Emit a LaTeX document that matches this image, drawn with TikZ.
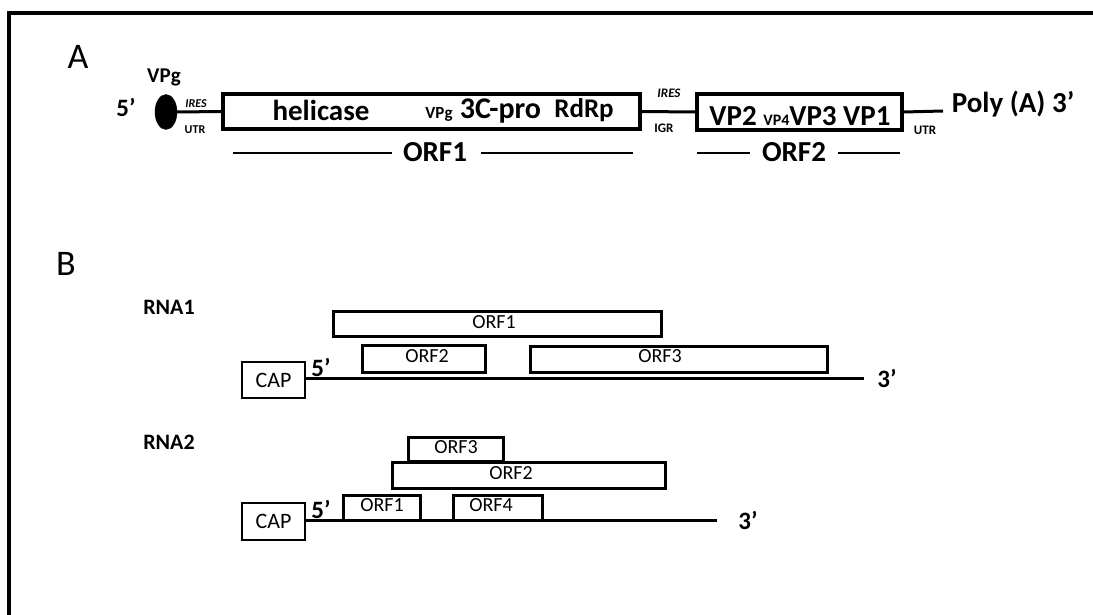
\documentclass[tikz,border=0pt]{standalone}
\usepackage{fontspec}
\setmainfont{Carlito}
\usetikzlibrary{shapes.geometric}
\newcommand{\fsz}[1]{\fontsize{#1}{#1}\selectfont}
\begin{document}
\begin{tikzpicture}[x=1pt,y=-1pt,
  txt/.style={inner sep=0pt, anchor=center},
  gbox/.style={draw, line width=3.2pt, inner sep=0pt},
  orf/.style={draw, line width=3pt, inner sep=0pt},
  capbox/.style={draw, line width=1.4pt, inner sep=0pt},
  rna/.style={line width=3pt},
  thinline/.style={line width=1.5pt},
  orflab/.style={txt, font=\fsz{20}},
  small/.style={txt, font=\bfseries\fsz{12}},
  big/.style={txt, font=\bfseries\fsz{#1}},
]
\useasboundingbox (0,0) rectangle (1093,615);
% frame
\draw[line width=4pt] (9,615) -- (9,13) -- (1093,13);

% ---------- Part A ----------
\node[txt, font=\fsz{36}] (lA) at (78,57) {A};
\node[big=21] (vpg) at (164,77) {VPg};
\node[big=25] (a5) at (126,107) {5’};
\node[draw, fill=black, ellipse, minimum width=22, minimum height=35, inner sep=0pt] (ell) at (166,112) {};
\node[gbox, minimum width=417, minimum height=35] (box1) at (431.5,111.5) {};
\node[gbox, minimum width=205, minimum height=36] (box2) at (799.5,112) {};
\draw[line width=3pt] (ell.east) -- (box1.west);
\draw[line width=3pt] (box1.east) -- (box2.west);
\coordinate (utrend) at (943,111);
\draw[line width=3pt] (box2.east) -- (utrend);
\node[small, font=\bfseries\itshape\fsz{12}] (ires1) at (196,104) {IRES};
\node[small] (utr1) at (195,130) {UTR};
\node[small, font=\bfseries\itshape\fsz{13}] (ires2) at (669,93) {IRES};
\node[small, font=\bfseries\fsz{13}] (igr) at (664,128) {IGR};
\node[small, font=\bfseries\fsz{13}] (utr2) at (925,130) {UTR};
\node[big=29] (hel) at (321,110) {helicase};
\node[big=17] (svpg) at (439,114) {VPg};
\node[big=30] (c3) at (500.5,111) {3C-pro};
\node[big=27] (rdrp) at (584,110) {RdRp};
\node[big=29, anchor=base] (vps) at (800,126) {VP2 {\fsz{16}VP4}VP3 VP1};
\node[big=29] (poly) at (1013,104) {Poly (A) 3’};
% ORF labels
\node[big=29] (o1) at (435,152) {ORF1};
\node[big=29] (o2) at (794,152) {ORF2};
\coordinate (o1l) at (233,153); \coordinate (o1m) at (392,153);
\coordinate (o1n) at (481,153); \coordinate (o1r) at (633,153);
\coordinate (o2l) at (697,153); \coordinate (o2m) at (750,153);
\coordinate (o2n) at (838,153); \coordinate (o2r) at (900,153);
\draw[thinline] (o1l) -- (o1m);
\draw[thinline] (o1n) -- (o1r);
\draw[thinline] (o2l) -- (o2m);
\draw[thinline] (o2n) -- (o2r);

% ---------- Part B ----------
\node[txt, font=\fsz{36}] (lB) at (66,264) {B};
\node[big=22] (rna1) at (169,307) {RNA1};
\node[big=22] (rna2) at (169,442) {RNA2};

% RNA1
\node[capbox, minimum width=63, minimum height=36] (cap1) at (273.5,380) {};
\node[txt, font=\fsz{22}] (cap1t) at (cap1) {CAP};
\coordinate (r1e) at (864,378);
\draw[rna] (cap1.east |- r1e) -- (r1e);
\node[big=25] (r1five) at (321,367) {5’};
\node[big=25] (r1three) at (887,378) {3’};
\node[orf, minimum width=328, minimum height=25] (r1o1) at (497,323.5) {};
\node[orf, minimum width=123, minimum height=27] (r1o2) at (423.5,358.5) {};
\node[orf, minimum width=297, minimum height=26] (r1o3) at (678.5,359) {};
\node[orflab] (r1o1t) at (494,322) {ORF1};
\node[orflab] (r1o2t) at (427,356) {ORF2};
\node[orflab] (r1o3t) at (660,356) {ORF3};

% RNA2
\node[capbox, minimum width=63, minimum height=37] (cap2) at (273.5,521.5) {};
\node[txt, font=\fsz{22}] (cap2t) at (cap2) {CAP};
\coordinate (r2e) at (717,520);
\draw[rna] (cap2.east |- r2e) -- (r2e);
\node[big=25] (r2five) at (321,509) {5’};
\node[big=25] (r2three) at (748,520) {3’};
\node[orf, minimum width=95, minimum height=24] (r2o3) at (455.5,449) {};
\node[orf, minimum width=273, minimum height=26] (r2o2) at (528.5,475) {};
\node[orf, minimum width=77, minimum height=25] (r2o1) at (381.5,507.5) {};
\node[orf, minimum width=89, minimum height=25] (r2o4) at (497.5,507.5) {};
\node[orflab] (r2o3t) at (456,447) {ORF3};
\node[orflab] (r2o2t) at (511,473) {ORF2};
\node[orflab] (r2o1t) at (382,505) {ORF1};
\node[orflab] (r2o4t) at (491,505) {ORF4};
\end{tikzpicture}
\end{document}
